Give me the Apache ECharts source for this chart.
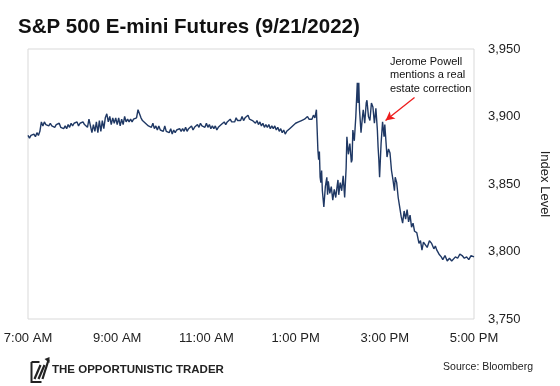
<!DOCTYPE html>
<html>
<head>
<meta charset="utf-8">
<script src="https://cdn.jsdelivr.net/npm/echarts@6/dist/echarts.min.js"></script>
<style>html,body{margin:0;padding:0;background:#fff;}#c{width:560px;height:386px;}</style>
</head>
<body>
<div id="c"></div>
<script>
// minutes after 7:00 AM
var minutes = [0,2,4,6,8,10,12,14,16,18,20,22,24,26,28,30,32,34,36,38,40,42,44,46,48,50,52,54,56,58,60,62,64,66,68,70,72,74,76,78,80,82,84,86,88,90,92,94,96,98,100,102,104,106,108,110,112,114,116,118,120,122,124,126,128,130,132,134,136,138,140,142,144,146,148,150,152,154,156,158,160,162,164,166,168,170,172,174,176,178,180,182,184,186,188,190,192,194,196,198,200,202,204,206,208,210,212,214,216,218,220,222,224,226,228,230,232,234,236,238,240,242,244,246,248,250,252,254,256,258,260,262,264,266,268,270,272,274,276,278,280,282,284,286,288,290,292,294,296,298,300,302,304,306,308,310,312,314,316,318,320,322,324,326,328,330,332,334,336,338,340,342,344,346,348,350,352,354,356,358,360,362,364,366,368,370,372,374,376,378,380,382,384,386,388,
  390,391,392,393,394,395,396,398,400,402,403,404,406,408,410,412,414,416,417,418,420,422,424,426,428,429,431,433,435,436,437,439,441,443,444,445,446,448,450,451,453,455,456,458,460,462,464,466,468,469,470,471,472,473,475,477,479,480,482,483,485,487,489,491,493,494,496,498,500,502,504,506,508,510,512,514,516,518,520,523,526,528,530,532,534,537,540,543,546,548,550,553,556,558,561,564,567,570,572,575,578,581,584,587,590,593,596,600];
var prices = [3886,3884,3886,3885,3887,3885,3888,3886,3889,3896,3893,3896,3894,3895,3893,3895,3893,3894,3892,3894,3893,3895,3892,3893,3891,3893,3891,3894,3892,3895,3893,3895,3894,3896,3893,3895,3894,3896,3894,3895,3892,3898,3899,3888,3894,3889,3896,3888,3897,3889,3897,3891,3899,3902,3896,3900,3894,3899,3895,3899,3894,3899,3893,3898,3894,3900,3896,3898,3896,3898,3896,3898,3897,3899,3905,3902,3899,3897,3898,3895,3896,3893,3894,3892,3895,3891,3893,3890,3893,3890,3891,3889,3893,3889,3890,3888,3891,3887,3890,3888,3890,3889,3891,3889,3891,3889,3892,3889,3891,3890,3893,3890,3892,3891,3894,3892,3895,3893,3894,3892,3895,3892,3894,3891,3893,3891,3893,3890,3892,3891,3894,3893,3896,3894,3896,3895,3898,3896,3897,3896,3899,3897,3898,3897,3900,3897,3899,3898,3901,3898,3899,3897,3898,3895,3897,3894,3896,3893,3895,3892,3894,3892,3894,3891,3893,3891,3893,3890,3892,3889,3891,3888,3890,3887,3889,3888,3891,3890,3893,3892,3895,3894,3896,3895,3897,3896,3898,3897,3900,3898,3899,3898,3901,3899,3905,
  3875,3868,3874,3855,3851,3860,3845,3833,3848,3855,3842,3852,3843,3848,3838,3846,3840,3849,3853,3842,3851,3845,3856,3840,3862,3885,3872,3880,3866,3868,3890,3882,3900,3925,3910,3925,3905,3888,3900,3905,3895,3910,3912,3900,3897,3910,3907,3895,3906,3905,3890,3877,3868,3855,3880,3896,3885,3894,3878,3870,3876,3873,3860,3853,3845,3855,3851,3840,3833,3826,3821,3830,3824,3831,3822,3827,3818,3821,3815,3814,3806,3808,3801,3807,3806,3803,3808,3806,3802,3804,3801,3798,3796,3794,3797,3793,3795,3793,3794,3796,3795,3798,3797,3795,3796,3794,3797,3796];
var xTickLabels = {0:'7:00 AM',120:'9:00 AM',240:'11:00 AM',360:'1:00 PM',480:'3:00 PM',600:'5:00 PM'};
var yMin = 3750, yMax = 3950, yStep = 50;
var titleText = 'S&P 500 E-mini Futures (9/21/2022)';
var noteText = 'Jerome Powell\nmentions a real\nestate correction';
var arrowFrom = [520, 3914], arrowTo = [481, 3897];

var data = minutes.map(function(m,i){return [m, prices[i]];});
var chart = echarts.init(document.getElementById('c'), null, {renderer:'canvas'});
chart.setOption({
  animation:false,
  backgroundColor:'#fff',
  title:{text:titleText,left:18,top:17,padding:0,textStyle:{fontFamily:'Liberation Sans, Arial',fontSize:20.5,fontWeight:'bold',color:'#111'}},
  grid:{left:28,right:86,top:49,bottom:67,show:true,borderColor:'#d9d9d9',borderWidth:1},
  xAxis:{type:'value',min:0,max:600,interval:120,
    axisLine:{show:false},axisTick:{show:false},splitLine:{show:false},
    axisLabel:{margin:13,fontFamily:'Liberation Sans, Arial',fontSize:13,color:'#222',formatter:function(v){return xTickLabels[v]||'';}}},
  yAxis:{type:'value',position:'right',min:yMin,max:yMax,interval:yStep,
    axisLine:{show:false},axisTick:{show:false},splitLine:{show:false},
    axisLabel:{margin:14,fontFamily:'Liberation Sans, Arial',fontSize:13,color:'#222',formatter:function(v){return v.toLocaleString('en-US');}},
    name:'Index Level',nameLocation:'middle',nameRotate:-90,nameGap:64,
    nameTextStyle:{fontFamily:'Liberation Sans, Arial',fontSize:13,color:'#222'}},
  series:[{type:'line',data:data,showSymbol:false,lineStyle:{color:'#1f3864',width:1.4},
    markLine:{silent:true,symbol:['none','arrow'],symbolSize:[7,9],
      lineStyle:{color:'#ee1c1c',width:1.3,type:'solid'},label:{show:false},
      data:[[{coord:arrowFrom},{coord:arrowTo}]]}}],
  graphic:[
    {type:'text',left:390,top:55,style:{text:noteText,fontFamily:'Liberation Sans, Arial',fontSize:11,lineHeight:13.5,fill:'#111',textAlign:'left'}},
    {type:'text',right:27,top:362,style:{text:'Source: Bloomberg',fontFamily:'Liberation Sans, Arial',fontSize:10.5,fill:'#222'}},
    {type:'text',left:52,top:364,style:{text:'THE OPPORTUNISTIC TRADER',fontFamily:'Liberation Sans, Arial',fontSize:11.5,fontWeight:'bold',fill:'#222'}},
    {type:'group',left:29,top:357,children:[
      {type:'polyline',shape:{points:[[0,5],[0,25],[10,25]]},style:{stroke:'#222',lineWidth:2,fill:null}},
      {type:'line',shape:{x1:3,y1:22,x2:9,y2:8},style:{stroke:'#222',lineWidth:2.2}},
      {type:'line',shape:{x1:7,y1:22,x2:13,y2:8},style:{stroke:'#222',lineWidth:2.2}},
      {type:'line',shape:{x1:11,y1:22,x2:17,y2:3},style:{stroke:'#222',lineWidth:2.2}},
      {type:'polygon',shape:{points:[[13,2],[18,0],[18,6]]},style:{fill:'#222'}},
      {type:'line',shape:{x1:0,y1:5,x2:8,y2:5},style:{stroke:'#222',lineWidth:2}}
    ]}
  ]
});
</script>
</body>
</html>
